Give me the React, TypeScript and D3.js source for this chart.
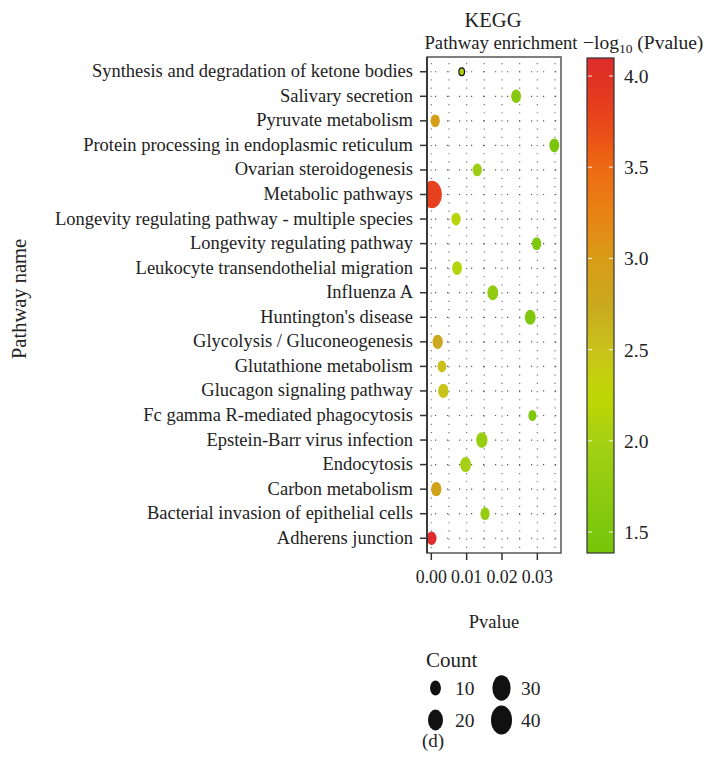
import React from "react";
import * as d3 from "d3";

const pathways = [
  "Synthesis and degradation of ketone bodies",
  "Salivary secretion",
  "Pyruvate metabolism",
  "Protein processing in endoplasmic reticulum",
  "Ovarian steroidogenesis",
  "Metabolic pathways",
  "Longevity regulating pathway - multiple species",
  "Longevity regulating pathway",
  "Leukocyte transendothelial migration",
  "Influenza A",
  "Huntington's disease",
  "Glycolysis / Gluconeogenesis",
  "Glutathione metabolism",
  "Glucagon signaling pathway",
  "Fc gamma R-mediated phagocytosis",
  "Epstein-Barr virus infection",
  "Endocytosis",
  "Carbon metabolism",
  "Bacterial invasion of epithelial cells",
  "Adherens junction",
];
const pvalues = [
  0.0086, 0.024, 0.0011, 0.0348, 0.013, 0.00015, 0.007, 0.0298, 0.0073, 0.0174,
  0.028, 0.0018, 0.003, 0.0034, 0.0286, 0.0143, 0.0097, 0.0014, 0.0152, 0.00008,
];
const counts = [2, 8, 7, 8, 7, 36, 7, 7, 8, 10, 10, 9, 6, 9, 5, 11, 10, 9, 7, 8];

const xTicks = [0, 0.01, 0.02, 0.03];
const xMinor = [0, 0.005, 0.01, 0.015, 0.02, 0.025, 0.03, 0.035];
const colorTicks = [1.5, 2.0, 2.5, 3.0, 3.5, 4.0];
const legendCounts = [10, 20, 30, 40];

const colorStops = [1.385, 1.5, 2.0, 2.25, 2.5, 2.75, 3.0, 3.25, 3.5, 3.75, 4.0, 4.1];
const colorValues = [
  "#78c508", "#7cc70c", "#a5d015", "#c0d800", "#c9c21c", "#caa81e",
  "#d89c16", "#e88214", "#ee6a12", "#e8461a", "#e03124", "#de2c2c",
];

const FONT = "'Liberation Serif', 'Times New Roman', serif";

export default function App() {
  const W = 715, H = 771;
  const px0 = 427, px1 = 561, py0 = 57, py1 = 553;

  const x = d3.scaleLinear().domain([-0.00122, 0.0367]).range([px0, px1]);
  const y = d3.scalePoint<string>().domain(pathways).range([py0, py1]).padding(0.6);
  const color = d3
    .scaleLinear<string>()
    .domain(colorStops)
    .range(colorValues)
    .interpolate(d3.interpolateRgb)
    .clamp(true);
  const ryScale = (c: number) => Math.sqrt(5 + 5.15 * c);
  const ratio = 1.38;

  const cbX = 587, cbW = 27, cbY0 = 58, cbY1 = 553;
  const cbScale = d3.scaleLinear().domain([1.385, 4.099]).range([cbY1, cbY0]);
  const gradStops = d3.range(0, 1.0001, 0.05).map((t) => {
    const v = 1.385 + t * (4.099 - 1.385);
    return { off: 1 - t, c: color(v) };
  }).sort((a, b) => a.off - b.off);

  return (
    <svg width={W} height={H} style={{ display: "block", position: "absolute", left: 0, top: 0 }} fontFamily={FONT}>
      <defs>
        <clipPath id="panel">
          <rect x={px0} y={py0} width={px1 - px0} height={py1 - py0} />
        </clipPath>
        <linearGradient id="cb" x1="0" y1="0" x2="0" y2="1">
          {gradStops.map((s, i) => (
            <stop key={i} offset={s.off} stopColor={s.c} />
          ))}
        </linearGradient>
      </defs>
      <rect width={W} height={H} fill="#fff" />

      {/* titles */}
      <text x={493} y={27} textAnchor="middle" fontSize={20.5} fill="#222">KEGG</text>
      <text x={501} y={49} textAnchor="middle" fontSize={18.7} fill="#222">Pathway enrichment</text>
      <text x={583} y={49} fontSize={19.5} fill="#222">
        −log<tspan fontSize={13.5} dy={4}>10</tspan>
        <tspan dy={-4}> (Pvalue)</tspan>
      </text>

      {/* grid */}
      <g clipPath="url(#panel)">
        {xMinor.map((v) => (
          <line key={"v" + v} x1={x(v)} x2={x(v)} y1={py0} y2={py1}
            stroke="#777" strokeWidth={1.2} strokeDasharray="1.2,7" strokeDashoffset={-((y(pathways[0]) as number) - py0) % 8.2 + 0.6} />
        ))}
        {pathways.map((p) => (
          <line key={"h" + p} x1={px0} x2={px1} y1={y(p)} y2={y(p)}
            stroke="#555" strokeWidth={1.2} strokeDasharray="1.2,10.8" strokeDashoffset={-8} />
        ))}
        {pathways.map((p, i) => {
          const ry = ryScale(counts[i]);
          return (
            <ellipse key={p} cx={x(pvalues[i])} cy={y(p)} rx={ry / ratio} ry={ry}
              fill={color(-Math.log10(pvalues[i]))}
              stroke={counts[i] < 3 ? "#111" : "none"} strokeWidth={1.2} />
          );
        })}
      </g>
      <rect x={px0} y={py0} width={px1 - px0} height={py1 - py0} fill="none" stroke="#555" strokeWidth={1.5} />
      <line x1={px0} x2={px0} y1={py0} y2={py1} stroke="#333" strokeWidth={1.8} />

      {/* y axis */}
      {pathways.map((p) => (
        <g key={"yt" + p}>
          <line x1={px0 - 7} x2={px0} y1={y(p)} y2={y(p)} stroke="#333" strokeWidth={1.5} />
          <text x={px0 - 14} y={(y(p) as number) + 5.5} textAnchor="end" fontSize={18.5} fill="#222">{p}</text>
        </g>
      ))}
      <text transform={`translate(26,${(py0 + py1) / 2 - 6}) rotate(-90)`} textAnchor="middle" fontSize={20.5} fill="#222">Pathway name</text>

      {/* x axis */}
      {xTicks.map((v) => (
        <g key={"xt" + v}>
          <line x1={x(v)} x2={x(v)} y1={py1} y2={py1 + 7} stroke="#333" strokeWidth={1.5} />
          <text x={x(v)} y={py1 + 30} textAnchor="middle" fontSize={17.8} fill="#222">{v.toFixed(2)}</text>
        </g>
      ))}
      <text x={494} y={628} textAnchor="middle" fontSize={18.5} fill="#222">Pvalue</text>

      {/* colorbar */}
      <rect x={cbX} y={cbY0} width={cbW} height={cbY1 - cbY0} fill="url(#cb)" stroke="#333" strokeWidth={1.2} />
      {colorTicks.map((v) => (
        <g key={"ct" + v}>
          <line x1={cbX + 1} x2={cbX + 5} y1={cbScale(v)} y2={cbScale(v)} stroke="#fff" strokeOpacity={0.75} strokeWidth={1.2} />
          <line x1={cbX + cbW - 5} x2={cbX + cbW - 1} y1={cbScale(v)} y2={cbScale(v)} stroke="#fff" strokeOpacity={0.75} strokeWidth={1.2} />
          <text x={cbX + 37} y={cbScale(v) + 7} fontSize={19.5} fill="#222">{v.toFixed(1)}</text>
        </g>
      ))}

      {/* size legend */}
      <text x={426} y={667} fontSize={21} fill="#222">Count</text>
      {legendCounts.map((c, i) => {
        const col = Math.floor(i / 2);
        const row = i % 2;
        const cx = 435.5 + col * 66;
        const cy = 688 + row * 32;
        const ry = ryScale(c);
        return (
          <g key={"lg" + c}>
            <ellipse cx={cx} cy={cy} rx={ry / ratio} ry={ry} fill="#111" />
            <text x={cx + 19.5} y={cy + 7} fontSize={19.5} fill="#222">{c}</text>
          </g>
        );
      })}

      <text x={433} y={747} textAnchor="middle" fontSize={19} fill="#222">(d)</text>
    </svg>
  );
}
